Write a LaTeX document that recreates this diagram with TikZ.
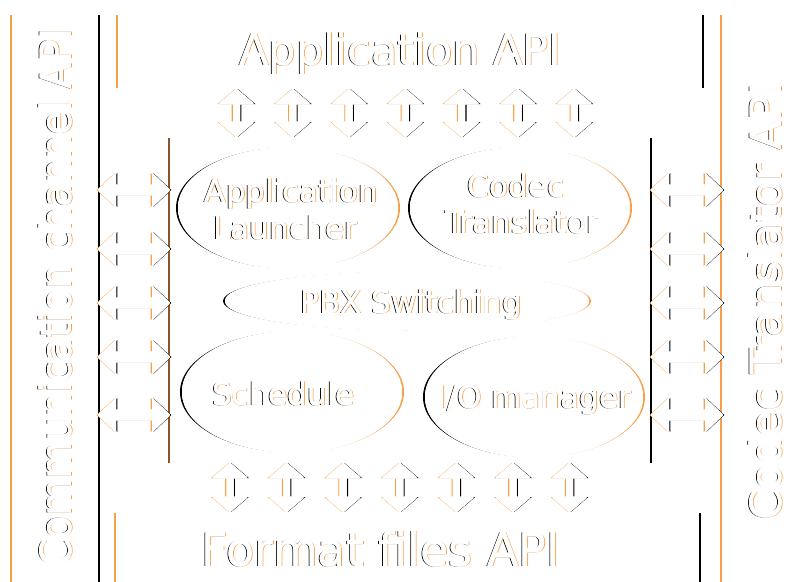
\documentclass[tikz,border=0pt]{standalone}
\usepackage{fontspec}
\setmainfont{DejaVu Sans}
\usepackage{graphicx}

\definecolor{edgeorange}{RGB}{247,160,72}
\definecolor{edgebrown}{RGB}{140,85,40}

% white cover, doubled up and down a little so that only the side rims stay visible
\newcommand\whitecover[1]{%
  \fill[white] #1;
  \fill[white,yshift=0.7pt] #1;
  \fill[white,yshift=-0.7pt] #1;}
% A dark area: its left rim glows orange (or #1), its right rim black.
\newcommand\darkshape[3][edgeorange]{%
  \fill[#1,xshift=-#2pt] #3;
  \fill[black,xshift=#2pt] #3;
  \whitecover{#3}}
% A light area: black on the left rim, orange on the right rim.
\newcommand\lightshape[2]{%
  \fill[black,xshift=-#1pt] #2;
  \fill[edgeorange,xshift=#1pt] #2;
  \whitecover{#2}}
% Light lettering drawn the same way: #1 node options, #2 name, #3 x, #4 baseline, #5 text
\newcommand\etext[5][]{%
  \node[lbl,#1,text=black] (#2-l) at ({#3-\tsh},#4) {#5};
  \node[lbl,#1,text=edgeorange] (#2-r) at ({#3+\tsh},#4) {#5};
  \node[lbl,#1,text=white] (#2-u) at (#3,{#4-0.6}) {#5};
  \node[lbl,#1,text=white] (#2-d) at (#3,{#4+0.6}) {#5};
  \node[lbl,#1,text=white] (#2) at (#3,#4) {#5};}
\newcommand\tsh{0.9}

% vertical double block arrow: centre x, top y, bottom y
\newcommand\varrow[3]{\darkshape{1.3}{(#1,#2) -- ({#1+17.5},{#2+15}) -- ({#1+3.5},{#2+15})
  -- ({#1+3.5},{#3-15}) -- ({#1+17.5},{#3-15}) -- (#1,#3) -- ({#1-17.5},{#3-15})
  -- ({#1-3.5},{#3-15}) -- ({#1-3.5},{#2+15}) -- ({#1-17.5},{#2+15}) -- cycle}}
% horizontal double block arrow: left x, right x, centre y
\newcommand\harrow[3]{\darkshape{1.3}{(#1,#3) -- ({#1+18},{#3-17}) -- ({#1+18},{#3-5})
  -- ({#2-18},{#3-5}) -- ({#2-18},{#3-17}) -- (#2,#3) -- ({#2-18},{#3+17})
  -- ({#2-18},{#3+5}) -- ({#1+18},{#3+5}) -- ({#1+18},{#3+17}) -- cycle}}

\begin{document}
\begin{tikzpicture}[x=1pt,y=-1pt,
  lbl/.style={inner sep=0pt,anchor=base},
  bigfont/.style={font=\fontsize{43}{48}\selectfont},
  hugefont/.style={font=\fontsize{46}{52}\selectfont},
  midfont/.style={font=\fontsize{31}{36}\selectfont}]
\useasboundingbox (0,0) rectangle (803,581);
\fill[white] (0,0) rectangle (803,581);

% bands round the core
\darkshape{1.6}{(12,15) rectangle (98,600)}
\darkshape{1.6}{(722,15) rectangle (815,600)}
\darkshape{1.6}{(118,15) rectangle (702,88)}
\darkshape{1.6}{(116,513) rectangle (699,600)}

% core box
\darkshape[edgebrown]{1.6}{(170,138) rectangle (650,463)}

% block arrows between the layers
\foreach \c in {236.5,292.8,349.1,405.4,461.7,518,574.3} {\varrow{\c}{89}{137}}
\foreach \c in {230,286.6,343.2,399.8,456.4,513,569.6} {\varrow{\c}{463}{512}}
\foreach \c in {190,249,303,357,415} {\harrow{98}{170}{\c}\harrow{651}{723}{\c}}

% modules inside the core
\lightshape{2}{(288,208) ellipse (110 and 60)}
\lightshape{2}{(520,208) ellipse (110 and 60)}
\lightshape{2}{(292,392) ellipse (110 and 60)}
\lightshape{2}{(534,397) ellipse (109 and 60)}
\lightshape{2}{(407,301) ellipse (182 and 29)}

% band titles
\renewcommand\tsh{1.0}
\etext[bigfont]{apptop}{400.5}{65}{Application API}
\etext[hugefont]{fmtbottom}{381}{566}{Format files API}
\etext[bigfont,rotate=90]{commleft}{71}{297.5}{\scalebox{0.89}[1]{Communication channel API}}
\etext[bigfont,rotate=90]{codecright}{781}{301.5}{\scalebox{0.99}[1]{Codec Translator API}}

% module names
\renewcommand\tsh{0.9}
\etext[midfont]{launch1}{291.5}{202}{Application}
\etext[midfont]{launch2}{285.5}{239}{Launcher}
\etext[midfont]{codec1}{516}{197}{Codec}
\etext[midfont]{codec2}{522}{233}{Translator}
\etext[midfont]{pbx}{411.5}{313}{PBX Switching}
\etext[midfont]{sched}{283.5}{405}{Schedule}
\etext[midfont]{iomgr}{534.5}{408}{I/O manager}
\end{tikzpicture}
\end{document}
